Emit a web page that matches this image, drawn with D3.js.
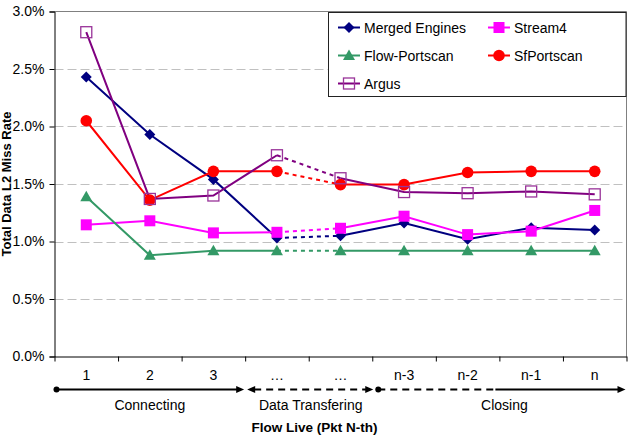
<!DOCTYPE html>
<html><head><meta charset="utf-8">
<script src="https://cdn.jsdelivr.net/npm/d3@7"></script>
<style>
html,body{margin:0;padding:0;background:#fff;}
text{font-family:"Liberation Sans",Arial,sans-serif;}
</style></head>
<body><svg id="c" width="630" height="440"></svg>
<script>
const categories = ["1","2","3","\u2026","\u2026","n-3","n-2","n-1","n"];
const yTicks = [0,0.005,0.01,0.015,0.02,0.025,0.03];
const seriesNames = ["Merged Engines","Stream4","Flow-Portscan","SfPortscan","Argus"];
const mergedEngines = [2.43,1.93,1.54,1.03,1.05,1.16,1.02,1.12,1.10];
const stream4 = [1.145,1.18,1.075,1.08,1.115,1.22,1.06,1.09,1.27];
const flowPortscan = [1.39,0.88,0.92,0.92,0.92,0.92,0.92,0.92,0.92];
const sfPortscan = [2.05,1.36,1.61,1.61,1.495,1.495,1.60,1.61,1.61];
const argus = [2.82,1.37,1.40,1.75,1.55,1.43,1.42,1.435,1.41];
const phases = ["Connecting","Data Transfering","Closing"];

const seriesValues = [mergedEngines, stream4, flowPortscan, sfPortscan, argus];
const colors = ["#000080","#FF00FF","#339966","#FF0000","#800080"];
const shapes = ["diamond","square","triangle","circle","opensquare"];
const FS = 14;

const svg = d3.select("#c");
const L = 54.5, R = 626.5, T = 11.5, B = 356.5;
const x = d3.scaleBand().domain(d3.range(categories.length)).range([L, R]).padding(0);
const xLin = d3.scaleLinear().domain([0, categories.length]).range([L, R]);
const y = d3.scaleLinear().domain([0, 0.03]).range([B, T]);

// frame top/right
svg.append("path").attr("d", `M${L},${T}H${R}V${B}`).attr("fill","none").attr("stroke","#808080").attr("stroke-width",1);

// gridlines
svg.append("g").selectAll("line").data(yTicks.filter(v => v > 0 && v < 0.03)).join("line")
  .attr("x1", L).attr("x2", R).attr("y1", d => Math.round(y(d)) + 0.5).attr("y2", d => Math.round(y(d)) + 0.5)
  .attr("stroke", "#C0C0C0").attr("stroke-width", 1).attr("stroke-dasharray", "9,4");

// y axis
const yAxis = svg.append("g").attr("transform", `translate(${L},0)`)
  .call(d3.axisLeft(y).tickValues(yTicks).tickFormat(d3.format(".1%")).tickSize(5).tickPadding(5));
yAxis.select(".domain").attr("stroke", "#000");
yAxis.selectAll(".tick line").attr("stroke", "#000");
yAxis.selectAll("text").attr("font-size", FS).attr("fill", "#000").attr("font-family", "Liberation Sans, Arial, sans-serif");

// x axis boundary ticks
const xAxis = svg.append("g").attr("transform", `translate(0,${B})`)
  .call(d3.axisBottom(xLin).tickValues(d3.range(categories.length + 1)).tickFormat("").tickSize(5).tickSizeOuter(0));
xAxis.select(".domain").attr("stroke", "#000");
xAxis.selectAll(".tick line").attr("stroke", "#000");
// x labels
const xLab = svg.append("g").attr("transform", `translate(0,${B})`)
  .call(d3.axisBottom(x).tickFormat(i => categories[i]).tickSize(0).tickPadding(14));
xLab.select(".domain").remove();
xLab.selectAll("text").attr("font-size", FS).attr("fill", "#000").attr("font-family", "Liberation Sans, Arial, sans-serif");

// lines
const cx = i => x(i) + x.bandwidth() / 2;
const lineGen = d3.line().x(d => cx(d.i)).y(d => y(d.v / 100));
const gSeries = svg.append("g");
seriesValues.forEach((vals, s) => {
  const pts = vals.map((v, i) => ({i, v}));
  const g = gSeries.append("g");
  g.append("path").attr("d", lineGen(pts.slice(0, 4))).attr("fill","none").attr("stroke", colors[s]).attr("stroke-width", 2);
  g.append("path").attr("d", lineGen(pts.slice(3, 5))).attr("fill","none").attr("stroke", colors[s]).attr("stroke-width", 2).attr("stroke-dasharray","4,4");
  g.append("path").attr("d", lineGen(pts.slice(4))).attr("fill","none").attr("stroke", colors[s]).attr("stroke-width", 2);
});

function drawMarker(g, shape, color, px, py) {
  if (shape === "diamond") {
    g.append("path").attr("d", `M${px},${py-5.5}L${px+5.5},${py}L${px},${py+5.5}L${px-5.5},${py}Z`).attr("fill", color);
  } else if (shape === "square") {
    g.append("rect").attr("x", px-5.5).attr("y", py-5.5).attr("width", 11).attr("height", 11).attr("fill", color);
  } else if (shape === "triangle") {
    g.append("path").attr("d", `M${px},${py-6}L${px+6},${py+4.5}L${px-6},${py+4.5}Z`).attr("fill", color);
  } else if (shape === "circle") {
    g.append("circle").attr("cx", px).attr("cy", py).attr("r", 5.8).attr("fill", color);
  } else {
    g.append("rect").attr("x", px-5.5).attr("y", py-5.5).attr("width", 11).attr("height", 11).attr("fill", "none").attr("stroke", "#993399").attr("stroke-width", 1.3);
  }
}
seriesValues.forEach((vals, s) => {
  const g = gSeries.append("g");
  vals.forEach((v, i) => drawMarker(g, shapes[s], colors[s], cx(i), y(v / 100)));
});

// legend
const lg = svg.append("g");
lg.append("rect").attr("x", 328.5).attr("y", 12.5).attr("width", 297.5).attr("height", 84).attr("fill", "#fff").attr("stroke", "#222").attr("stroke-width", 1);
const legPos = [[349,27.5],[499,27.5],[349,55.5],[499,55.5],[349,83.5]];
seriesNames.forEach((name, s) => {
  const [mx, my] = legPos[s];
  lg.append("line").attr("x1", mx-11).attr("x2", mx+11).attr("y1", my).attr("y2", my).attr("stroke", colors[s]).attr("stroke-width", 2);
  drawMarker(lg, shapes[s], colors[s], mx, my);
  lg.append("text").attr("x", mx+15).attr("y", my).attr("dy", "0.36em").attr("font-size", FS).text(name);
});

// phase arrows
const ay = 389.5;
const ga = svg.append("g");
function arrowHead(px, dir) {
  ga.append("path").attr("d", `M${px},${ay}L${px-8*dir},${ay-3.5}L${px-8*dir},${ay+3.5}Z`).attr("fill","#000");
}
const b0 = xLin(0), b3 = xLin(3), b5 = xLin(5), b7 = xLin(7), b9 = xLin(9);
ga.append("circle").attr("cx", b0+2).attr("cy", ay).attr("r", 3).attr("fill","#000");
ga.append("line").attr("x1", b0+2).attr("x2", b3-6).attr("y1", ay).attr("y2", ay).attr("stroke","#000").attr("stroke-width",2);
arrowHead(b3-1, 1);
arrowHead(b3+2, -1);
ga.append("line").attr("x1", b3+9).attr("x2", b5-6).attr("y1", ay).attr("y2", ay).attr("stroke","#000").attr("stroke-width",2).attr("stroke-dasharray","7,5");
arrowHead(b5+1, 1);
ga.append("circle").attr("cx", b5+6).attr("cy", ay).attr("r", 3).attr("fill","#000");
ga.append("line").attr("x1", b5+6).attr("x2", b7-4).attr("y1", ay).attr("y2", ay).attr("stroke","#000").attr("stroke-width",2).attr("stroke-dasharray","7,5");
ga.append("line").attr("x1", b7-4).attr("x2", b9-6).attr("y1", ay).attr("y2", ay).attr("stroke","#000").attr("stroke-width",2);
arrowHead(b9-1, 1);

const phaseX = [(b0 + b3) / 2, (b3 + b5) / 2 + 2, (b5 + b9) / 2 + 5];
phases.forEach((p, k) => {
  svg.append("text").attr("x", phaseX[k]).attr("y", 405).attr("dy","0.36em").attr("text-anchor","middle").attr("font-size", FS).text(p);
});

// axis titles
svg.append("text").attr("x", (L + R) / 2 - 26).attr("y", 427).attr("dy","0.36em").attr("text-anchor","middle")
  .attr("font-size", 13.5).attr("font-weight","bold").text("Flow Live (Pkt N-th)");
svg.append("text").attr("transform", `translate(11,${(T + B) / 2}) rotate(-90)`).attr("text-anchor","middle")
  .attr("font-size", 13).attr("font-weight","bold").text("Total Data L2 Miss Rate");
</script></body></html>
